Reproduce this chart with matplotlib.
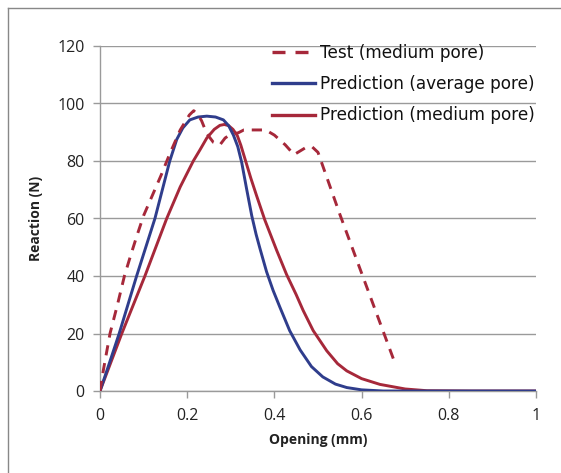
import matplotlib
matplotlib.use("Agg")
import matplotlib.pyplot as plt
from matplotlib.lines import Line2D

# Test (medium pore) - dashed
test_x = [0, 0.008, 0.023, 0.04, 0.056, 0.07, 0.084, 0.10, 0.12, 0.14, 0.16,
          0.184, 0.205, 0.215, 0.225, 0.233, 0.245, 0.26, 0.275, 0.287, 0.30,
          0.317, 0.33, 0.35, 0.38, 0.40, 0.425, 0.445, 0.47, 0.486, 0.50,
          0.55, 0.60, 0.677]
test_y = [0, 7.5, 20, 30, 40, 47, 53.7, 61, 68, 75, 82.5,
          90.8, 96, 97.5, 96, 94, 89.5, 86.5, 85.6, 88, 89.3,
          89.8, 90.8, 90.8, 90.8, 89, 85.6, 82.2, 84.5, 85, 83,
          61.5, 41, 9.5]

# Prediction (average pore) - blue
avg_x = [0, 0.02, 0.044, 0.064, 0.084, 0.105, 0.126, 0.143, 0.16, 0.176, 0.19,
         0.206, 0.225, 0.245, 0.265, 0.283, 0.295, 0.306, 0.316, 0.325, 0.336,
         0.348, 0.358, 0.367, 0.382, 0.397, 0.413, 0.435, 0.459, 0.485, 0.511,
         0.54, 0.566, 0.60, 0.65, 0.75, 1.0]
avg_y = [0, 9, 20, 30, 40, 50, 60, 70, 80, 87.5, 91.5,
         94.3, 95.3, 95.6, 95.3, 94.3, 92.3, 89, 85, 79.5, 70.5,
         61, 54.5, 49.5, 41.5, 35, 29, 21, 14.3, 8.5, 4.9,
         2.4, 1.2, 0.4, 0, 0, 0]

# Prediction (medium pore) - red
med_x = [0, 0.05, 0.103, 0.153, 0.184, 0.214, 0.229, 0.245, 0.262, 0.275, 0.285,
         0.295, 0.305, 0.315, 0.323, 0.333, 0.346, 0.359, 0.378, 0.405, 0.428,
         0.45, 0.466, 0.489, 0.52, 0.545, 0.566, 0.60, 0.642, 0.70, 0.75, 0.85, 1.0]
med_y = [0, 20, 40, 60, 71, 80, 83.8, 88, 91, 92.4, 92.7,
         92.3, 91, 88.8, 85.5, 80.5, 74, 68, 59.5, 49, 40.5,
         33.5, 28, 21, 14, 9.5, 7, 4.3, 2.3, 0.7, 0.1, 0, 0]

xticks = [0, 0.2, 0.4, 0.6, 0.8, 1]
xtick_labels = ["0", "0.2", "0.4", "0.6", "0.8", "1"]
yticks = [0, 20, 40, 60, 80, 100, 120]
labels = ["Test (medium pore)", "Prediction (average pore)", "Prediction (medium pore)"]

BLUE = "#2F3D8C"
RED = "#A6283A"
LW = 2.1

W, H = 561, 473
fig = plt.figure(figsize=(W / 100, H / 100), dpi=100)
ax = fig.add_axes([100 / W, 82 / H, 436 / W, 345 / H])

ax.plot(med_x, med_y, color=RED, lw=LW, solid_joinstyle="round", zorder=3)
ax.plot(avg_x, avg_y, color=BLUE, lw=LW, solid_joinstyle="round", zorder=4)
ax.plot(test_x, test_y, color=RED, lw=LW, dashes=(3.5, 2.7), zorder=5)

ax.set_xlim(0, 1)
ax.set_ylim(0, 120)
ax.set_xticks(xticks)
ax.set_xticklabels(xtick_labels)
ax.set_yticks(yticks)
ax.yaxis.grid(True, color="#9a9a9a", lw=1.0)
ax.set_axisbelow(True)
for s in ["top", "right"]:
    ax.spines[s].set_visible(False)
for s in ["left", "bottom"]:
    ax.spines[s].set_color("#9a9a9a")
    ax.spines[s].set_linewidth(1.0)
ax.tick_params(axis="both", colors="#9a9a9a", length=5, width=1.0,
               labelcolor="#222222", labelsize=11.5)
for lab in ax.get_xticklabels() + ax.get_yticklabels():
    lab.set_family("Open Sans")
ax.tick_params(axis="x", pad=7)
ax.tick_params(axis="y", pad=6)

ax.set_xlabel("Opening (mm)", fontsize=10, fontweight="bold", family="Open Sans",
              labelpad=7, color="#222222")
ax.set_ylabel("Reaction (N)", fontsize=10, fontweight="bold", family="Open Sans",
              labelpad=10, color="#222222")

handles = [
    Line2D([], [], color=RED, lw=2.4, dashes=(3.9, 3.0)),
    Line2D([], [], color=BLUE, lw=2.4),
    Line2D([], [], color=RED, lw=2.4),
]
leg = fig.legend(handles, labels, loc="upper left",
                 bbox_to_anchor=(271.5 / W, 1 - 44 / H),
                 borderpad=0, borderaxespad=0,
                 frameon=False, handlelength=2.58, handletextpad=0.3,
                 labelspacing=0.78, prop={"family": "DejaVu Sans", "size": 12.2})
for t in leg.get_texts():
    t.set_color("#111111")

# outer chart-area border (left and top visible)
fig.add_artist(Line2D([8 / W, 8 / W], [0, 1 - 8 / H], color="#888888", lw=1.0,
                      transform=fig.transFigure))
fig.add_artist(Line2D([8 / W, 1], [1 - 8 / H, 1 - 8 / H], color="#888888", lw=1.0,
                      transform=fig.transFigure))

fig.savefig("out.png", dpi=100)
